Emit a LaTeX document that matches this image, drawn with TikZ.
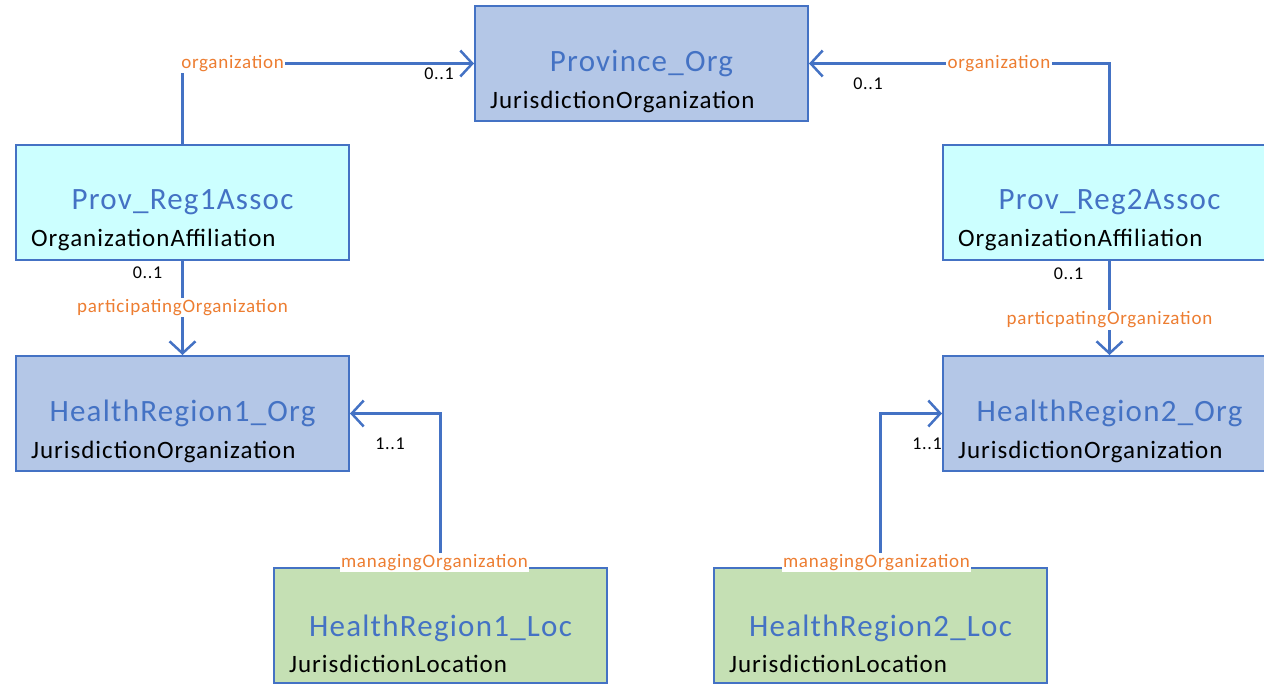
\documentclass[tikz,border=0pt]{standalone}
\usepackage{fontspec}
\setmainfont{Carlito}[LetterSpace=4]
\usepackage{xcolor}
\usetikzlibrary{positioning,calc,arrows.meta}
\definecolor{umlblue}{HTML}{4472C4}
\definecolor{orgfill}{HTML}{B4C7E7}
\definecolor{assocfill}{HTML}{CCFFFF}
\definecolor{locfill}{HTML}{C5E0B4}
\definecolor{rolecol}{HTML}{ED7D31}

\begin{document}
\begin{tikzpicture}[x=1pt, y=-1pt,
    cls/.style={draw=umlblue, line width=2pt, rectangle, minimum width=333pt, minimum height=115pt, inner sep=0pt},
    ttl/.style={text=umlblue, font=\fontsize{31}{34}\selectfont},
    sub/.style={anchor=west, font=\fontsize{25}{28}\selectfont},
    link/.style={draw=umlblue, line width=2.5pt, -{Straight Barb[length=12pt, width=26pt]}},
    role/.style={text=rolecol, fill=white, inner sep=1.5pt, font=\fontsize{19}{21}\selectfont},
    mult/.style={font=\fontsize{18}{20}\selectfont}]
    \clip (0,0) rectangle (1264,683);

    % Province
    \node [cls, fill=orgfill] (prov) at (641.5,63.5) {};
    \node [ttl] at (prov.center) {Province\_Org};
    \node [sub] at ($(prov.center)+(-155,38)$) {JurisdictionOrganization};

    % Associations
    \node [cls, fill=assocfill] (assoc1) at (182.5,202) {};
    \node [ttl] at (assoc1.center) {Prov\_Reg1Assoc};
    \node [sub] at ($(assoc1.center)+(-155,38)$) {OrganizationAffiliation};

    \node [cls, fill=assocfill] (assoc2) at (1109.5,202) {};
    \node [ttl] at (assoc2.center) {Prov\_Reg2Assoc};
    \node [sub] at ($(assoc2.center)+(-155,38)$) {OrganizationAffiliation};

    % Health region organizations
    \node [cls, fill=orgfill] (hr1org) at (182.5,413.5) {};
    \node [ttl] at (hr1org.center) {HealthRegion1\_Org};
    \node [sub] at ($(hr1org.center)+(-155,38)$) {JurisdictionOrganization};

    \node [cls, fill=orgfill] (hr2org) at (1109.5,413.5) {};
    \node [ttl] at (hr2org.center) {HealthRegion2\_Org};
    \node [sub] at ($(hr2org.center)+(-155,38)$) {JurisdictionOrganization};

    % Health region locations
    \node [cls, fill=locfill] (hr1loc) at (440.5,625) {};
    \node [ttl] at ($(hr1loc.center)+(0,3)$) {HealthRegion1\_Loc};
    \node [sub] at ($(hr1loc.center)+(-155,39)$) {JurisdictionLocation};

    \node [cls, fill=locfill] (hr2loc) at (880.5,625) {};
    \node [ttl] at ($(hr2loc.center)+(0,3)$) {HealthRegion2\_Loc};
    \node [sub] at ($(hr2loc.center)+(-155,39)$) {JurisdictionLocation};

    % Links
    \draw [link] (assoc1.north) |- node [role, pos=0.5, anchor=west, xshift=-4pt] {organization} (prov.west);
    \node [mult] at ($(prov.west)+(-35,10)$) {0..1};

    \draw [link] (assoc2.north) |- node [role, pos=0.684] {organization} (prov.east);
    \node [mult] at ($(prov.east)+(59,20)$) {0..1};

    \draw [link] (assoc1.south) -- node [role, pos=0.5] {participatingOrganization} (hr1org.north);
    \node [mult] at ($(assoc1.south)+(-35,12)$) {0..1};

    \draw [link] (assoc2.south) -- node [role, pos=0.63] {particpatingOrganization} (hr2org.north);
    \node [mult] at ($(assoc2.south)+(-41,13)$) {0..1};

    \draw [link] (hr1loc.north) |- (hr1org.east);
    \node [role] at ($(hr1loc.north)+(-6,-4)$) {managingOrganization};
    \node [mult] at ($(hr1org.east)+(40,30)$) {1..1};

    \draw [link] (hr2loc.north) |- (hr2org.west);
    \node [role] at ($(hr2loc.north)+(-4,-4)$) {managingOrganization};
    \node [mult] at ($(hr2org.west)+(-15,30)$) {1..1};
\end{tikzpicture}
\end{document}
